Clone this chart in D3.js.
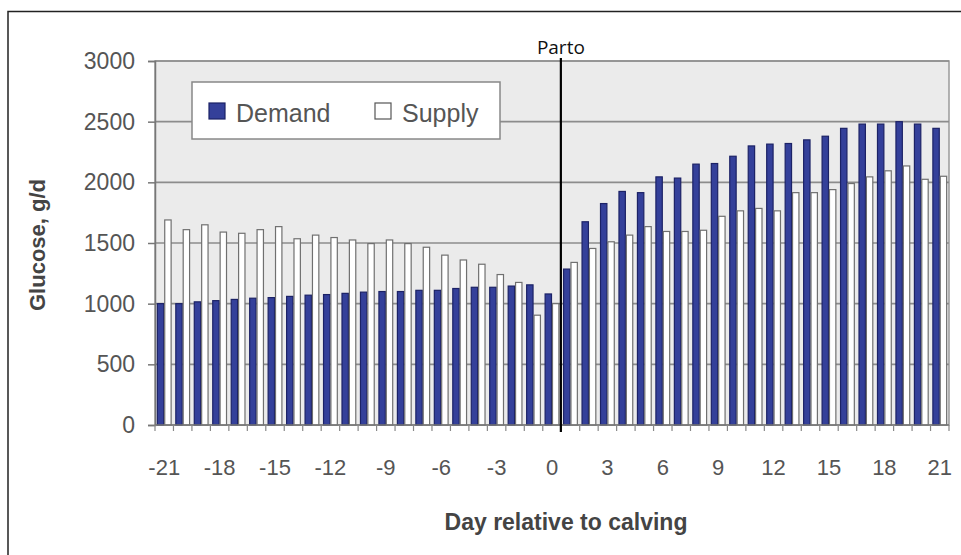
<!DOCTYPE html>
<html>
<head>
<meta charset="utf-8">
<script src="https://cdn.jsdelivr.net/npm/d3@7"></script>
<style>
  body { margin: 0; background: #fff; }
  svg { display: block; font-family: Arial, "Liberation Sans", sans-serif; }
</style>
</head>
<body>
<svg width="961" height="555"></svg>
<script>
// days relative to calving
const days = d3.range(-21, 22);
const demand = [1000, 1000, 1015, 1025, 1035, 1045, 1050, 1060, 1070, 1075, 1085,
  1095, 1100, 1100, 1110, 1110, 1125, 1135, 1135, 1145, 1155, 1080,
  1285, 1675, 1825, 1925, 1915, 2045, 2035, 2150, 2155, 2215, 2300,
  2315, 2320, 2350, 2380, 2445, 2480, 2480, 2500, 2480, 2445];
const supply = [1690, 1610, 1650, 1590, 1580, 1610, 1635, 1535, 1565, 1545, 1525,
  1495, 1525, 1495, 1465, 1400, 1360, 1325, 1240, 1175, 905, 1000,
  1340, 1455, 1510, 1565, 1635, 1595, 1595, 1605, 1720, 1765, 1785,
  1765, 1915, 1915, 1940, 1990, 2045, 2095, 2135, 2025, 2050];
const series = ['Demand', 'Supply'];
const yTicks = [0, 500, 1000, 1500, 2000, 2500, 3000];
const xLabels = [-21, -18, -15, -12, -9, -6, -3, 0, 3, 6, 9, 12, 15, 18, 21];
const partoDay = 0.4;

const svg = d3.select('svg');
const pl = 155, pr = 949, pt = 61, pb = 425;

// outer frame
svg.append('path')
  .attr('d', 'M8,555 V11.5 H961')
  .attr('fill', 'none').attr('stroke', '#222').attr('stroke-width', 1.5);

const x = d3.scaleBand().domain(days).range([pl, pr]).paddingInner(0.2).paddingOuter(0.1);
const x1 = d3.scaleBand().domain(series).range([0, x.bandwidth()]);
const y = d3.scaleLinear().domain([0, 3000]).range([pb, pt]);

// plot background
svg.append('rect')
  .attr('x', pl).attr('y', pt)
  .attr('width', pr - pl).attr('height', pb - pt)
  .attr('fill', '#ebebeb').attr('stroke', '#9a9a9a').attr('stroke-width', 1.5);

// gridlines
svg.append('g').selectAll('line').data(yTicks.filter(d => d > 0)).join('line')
  .attr('x1', pl).attr('x2', pr)
  .attr('y1', d => y(d)).attr('y2', d => y(d))
  .attr('stroke', '#8c8c8c').attr('stroke-width', 1.6);

// y axis
const yAxis = svg.append('g').attr('transform', `translate(${pl},0)`)
  .call(d3.axisLeft(y).tickValues(yTicks).tickFormat(d3.format('d')).tickSize(7).tickPadding(13));
yAxis.select('.domain').attr('stroke', '#777').attr('stroke-width', 1.5);
yAxis.selectAll('.tick line').attr('stroke', '#777').attr('stroke-width', 1.5);
yAxis.selectAll('text').attr('fill', '#555').style('font-size', '23px');

// bars
const rows = days.map((d, i) => ({ day: d, Demand: demand[i], Supply: supply[i] }));
const groups = svg.append('g').selectAll('g').data(rows).join('g')
  .attr('transform', d => `translate(${x(d.day)},0)`);
groups.selectAll('rect').data(d => series.map(k => ({ key: k, value: d[k] }))).join('rect')
  .attr('x', d => x1(d.key) + 0.5)
  .attr('width', x1.bandwidth() - 1)
  .attr('y', d => y(d.value))
  .attr('height', d => y(0) - y(d.value))
  .attr('fill', d => d.key === 'Demand' ? '#34409a' : '#ffffff')
  .attr('stroke', d => d.key === 'Demand' ? '#1c2266' : '#707070')
  .attr('stroke-width', 1.2);

// x axis
const step = x.step();
const xAxis = svg.append('g').attr('transform', `translate(0,${pb})`);
xAxis.append('line').attr('x1', pl).attr('x2', pr)
  .attr('stroke', '#777').attr('stroke-width', 1.5);
xAxis.selectAll('line.tk').data(days.concat([22])).join('line').attr('class', 'tk')
  .attr('x1', d => d === 22 ? pr : x(d) - x.paddingInner() * step / 2)
  .attr('x2', d => d === 22 ? pr : x(d) - x.paddingInner() * step / 2)
  .attr('y1', 0).attr('y2', 6)
  .attr('stroke', '#888').attr('stroke-width', 1.2);
xAxis.selectAll('text').data(xLabels).join('text')
  .attr('x', d => x(d) + x.bandwidth() / 2)
  .attr('y', 50)
  .attr('text-anchor', 'middle')
  .attr('fill', '#555').style('font-size', '22px')
  .text(d => d);

// Parto line
const px = x(0) + x.bandwidth() + (step - x.bandwidth()) * partoDay;
svg.append('line').attr('x1', px).attr('x2', px).attr('y1', 58).attr('y2', pb + 7)
  .attr('stroke', '#000').attr('stroke-width', 2.2);
svg.append('text').attr('x', px).attr('y', 54).attr('text-anchor', 'middle')
  .attr('fill', '#111').style('font-family', '"Open Sans", sans-serif').style('font-size', '19px')
  .text('Parto');

// axis titles
svg.append('text').attr('x', 566).attr('y', 530).attr('text-anchor', 'middle')
  .attr('fill', '#444').style('font-size', '23px').style('font-weight', 'bold')
  .text('Day relative to calving');
svg.append('text').attr('transform', 'translate(45,245) rotate(-90)').attr('text-anchor', 'middle')
  .attr('fill', '#444').style('font-size', '22px').style('font-weight', 'bold')
  .text('Glucose, g/d');

// legend
const lg = svg.append('g').attr('transform', 'translate(192,82)');
lg.append('rect').attr('width', 308).attr('height', 57)
  .attr('fill', '#fff').attr('stroke', '#888').attr('stroke-width', 1.5);
const items = lg.selectAll('g').data(series).join('g')
  .attr('transform', (d, i) => `translate(${i === 0 ? 17 : 183},21)`);
items.append('rect').attr('width', 16).attr('height', 16)
  .attr('fill', d => d === 'Demand' ? '#34409a' : '#fff')
  .attr('stroke', d => d === 'Demand' ? '#1c2266' : '#555').attr('stroke-width', 1.2);
items.append('text').attr('x', 27).attr('y', 19)
  .attr('fill', '#555').style('font-size', '25px')
  .text(d => d);
</script>
</body>
</html>
